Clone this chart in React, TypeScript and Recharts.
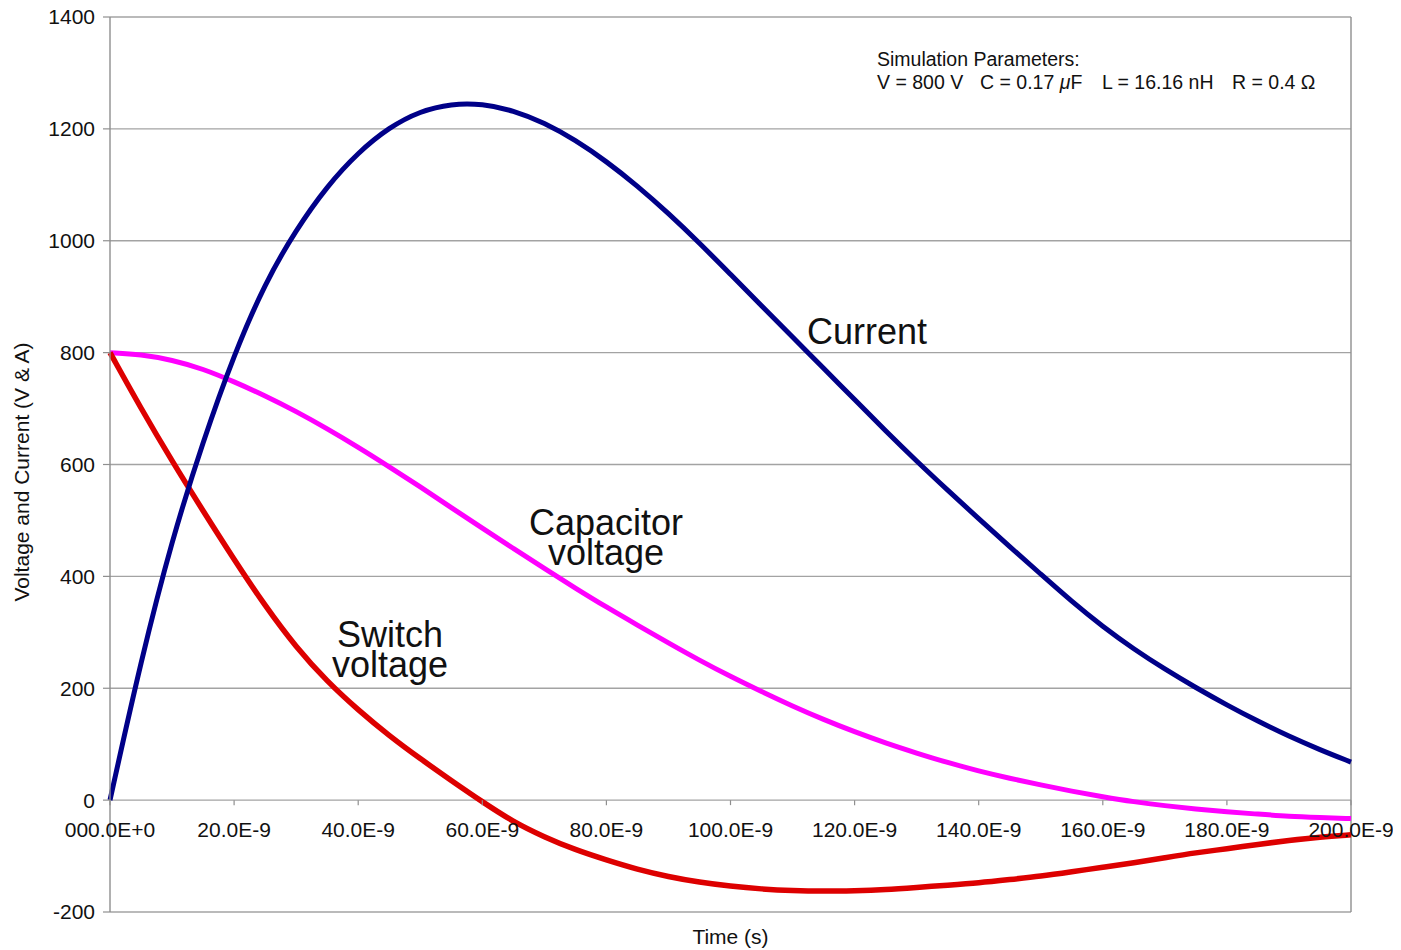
import { LineChart, Line, XAxis, YAxis, CartesianGrid, ReferenceLine } from "recharts";

// time in ns (x axis shown as seconds in E-notation)
const timeNs = [
  0, 5, 10, 15, 20, 25, 30, 35, 40, 45, 50, 55, 60, 65, 70, 75, 80, 85, 90, 95, 100,
  105, 110, 115, 120, 125, 130, 135, 140, 145, 150, 155, 160, 165, 170, 175, 180, 185, 190, 195, 200,
];

const currentA = [
  0, 250, 466, 642, 797, 925, 1020, 1098, 1158, 1203, 1232, 1245, 1245, 1233, 1211, 1180, 1142, 1098,
  1049, 996, 940, 884, 828, 772, 716, 660, 606, 554, 503, 453, 404, 355, 310, 270, 234, 201, 170, 141,
  114, 90, 68,
];

const capacitorV = [
  800, 797, 787, 771, 748, 723, 695, 664, 631, 596, 560, 523, 486, 450, 414, 379, 345, 313, 281, 250,
  221, 194, 168, 144, 122, 102, 84, 67, 52, 39, 27, 16, 6, -3, -10, -16, -21, -25, -29, -31, -33,
];

const switchV = [
  800, 700, 606, 517, 430, 347, 273, 212, 161, 115, 74, 35, -3, -39, -66, -89, -107, -124, -137, -147,
  -154, -159, -162, -163, -162, -160, -156, -152, -148, -142, -136, -128, -120, -112, -103, -94, -87,
  -79, -72, -66, -62,
];

const xTicks = [0, 20, 40, 60, 80, 100, 120, 140, 160, 180, 200];
const xTickLabels = [
  "000.0E+0", "20.0E-9", "40.0E-9", "60.0E-9", "80.0E-9", "100.0E-9",
  "120.0E-9", "140.0E-9", "160.0E-9", "180.0E-9", "200.0E-9",
];
const yTicks = [-200, 0, 200, 400, 600, 800, 1000, 1200, 1400];

const data = timeNs.map((t, i) => ({
  t,
  current: currentA[i],
  cap: capacitorV[i],
  sw: switchV[i],
}));

const FONT = "'Liberation Sans', Arial, Helvetica, sans-serif";
const GRID = "#a3a3a3";
const AXIS = "#8f8f8f";
const W = 1393;
const H = 948;
const PLOT_TOP = 17;
const X_AXIS_H = 36;
const PLOT_H = H - PLOT_TOP - X_AXIS_H;
const Y_MIN = -200;
const Y_MAX = 1400;
// x tick labels hang from the zero line, not the bottom of the plot
const zeroY = PLOT_TOP + ((Y_MAX - 0) / (Y_MAX - Y_MIN)) * PLOT_H;

function XTick(props: any) {
  const { x, index } = props;
  return (
    <g>
      <line x1={x} x2={x} y1={zeroY} y2={zeroY + 5} stroke={AXIS} strokeWidth={1.2} />
      <text x={x} y={zeroY + 37} textAnchor="middle" fontSize={21} fontFamily={FONT} fill="#111">
        {xTickLabels[index]}
      </text>
    </g>
  );
}

export default function App() {
  return (
    <div style={{ width: W, height: H, margin: "-8px 0 0 -8px", background: "#fff" }}>
      <LineChart width={W} height={H} data={data} margin={{ top: PLOT_TOP, right: 42, left: 0, bottom: 0 }}>
        <CartesianGrid vertical={false} stroke={GRID} strokeWidth={1.4} />
        <XAxis
          dataKey="t"
          type="number"
          domain={[0, 200]}
          ticks={xTicks}
          interval={0}
          height={X_AXIS_H}
          axisLine={false}
          tickLine={false}
          tick={(p: any) => <XTick {...p} />}
          label={{ value: "Time (s)", position: "insideBottom", offset: 4, fontSize: 21, fontFamily: FONT, fill: "#111" }}
        />
        <YAxis
          type="number"
          domain={[Y_MIN, Y_MAX]}
          ticks={yTicks}
          interval={0}
          width={110}
          tickSize={7}
          tickMargin={8}
          axisLine={{ stroke: AXIS, strokeWidth: 1.4 }}
          tickLine={{ stroke: AXIS, strokeWidth: 1.2 }}
          tick={{ fontSize: 21, fontFamily: FONT, fill: "#111" }}
        />
        <ReferenceLine x={200} stroke={AXIS} strokeWidth={1.4} />
        <Line dataKey="cap" type="basis" stroke="#ff00ff" strokeWidth={5} dot={false} isAnimationActive={false} />
        <Line dataKey="sw" type="basis" stroke="#dd0000" strokeWidth={5.5} dot={false} isAnimationActive={false} />
        <Line dataKey="current" type="basis" stroke="#000088" strokeWidth={5} dot={false} isAnimationActive={false} />

        <text
          transform="translate(29, 472) rotate(-90)"
          textAnchor="middle"
          fontSize={21}
          fontFamily={FONT}
          fill="#111"
        >
          Voltage and Current (V &amp; A)
        </text>

        <g fontFamily={FONT} fontSize={19.5} fill="#111">
          <text x={877} y={66}>Simulation Parameters:</text>
          <text y={89}>
            <tspan x={877}>V = 800 V</tspan>
            <tspan x={980}>C = 0.17 </tspan>
            <tspan fontStyle="italic">μ</tspan>
            <tspan>F</tspan>
            <tspan x={1102}>L = 16.16 nH</tspan>
            <tspan x={1232}>R = 0.4 Ω</tspan>
          </text>
        </g>

        <g fontFamily={FONT} fontSize={36} fill="#111" textAnchor="middle">
          <text x={867} y={344}>Current</text>
          <text>
            <tspan x={606} y={535}>Capacitor</tspan>
            <tspan x={606} y={565}>voltage</tspan>
          </text>
          <text>
            <tspan x={390} y={647}>Switch</tspan>
            <tspan x={390} y={677}>voltage</tspan>
          </text>
        </g>
      </LineChart>
    </div>
  );
}
